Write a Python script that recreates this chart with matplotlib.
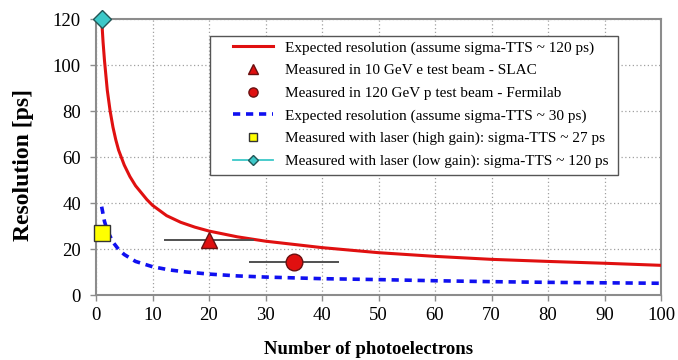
import matplotlib
matplotlib.use("Agg")
import matplotlib.pyplot as plt
from matplotlib.patches import Rectangle

plt.rcParams['font.family'] = ['Liberation Serif', 'DejaVu Serif']

# --- data ---
red_n = [1, 1.25, 1.5, 2, 2.5, 3, 3.5, 4, 5, 6, 7, 8, 9, 10, 12.5, 15, 17.5, 20, 25, 30, 40, 50, 60, 70, 80, 90, 100]
red_res = [120, 110, 102, 89, 80, 73, 67.5, 63, 56.5, 51.5, 47.5, 44.5, 41.5, 39, 34.5, 31.6, 29.5, 27.8, 25.3, 23.4, 20.6, 18.4, 16.8, 15.5, 14.6, 13.8, 12.9]

blue_n = [1, 1.5, 2, 3, 4, 5, 7, 10, 13, 16, 20, 25, 30, 40, 50, 60, 70, 80, 90, 100]
blue_res = [38.4, 32, 28, 23, 19.8, 17.6, 14.6, 12.3, 10.9, 10, 9.1, 8.3, 7.8, 7.1, 6.7, 6.2, 5.8, 5.5, 5.3, 5.1]

slac_n, slac_res, slac_nerr = [20], [24], [8]
fnal_n, fnal_res, fnal_nerr = [35], [14.3], [8]
laser_hi_n, laser_hi_res = [1], [27]
laser_lo_n, laser_lo_res = [1], [120]

labels = [
    "Expected resolution (assume sigma-TTS ~ 120 ps)",
    "Measured in 10 GeV e test beam - SLAC",
    "Measured in 120 GeV p test beam - Fermilab",
    "Expected resolution (assume sigma-TTS ~ 30 ps)",
    "Measured with laser (high gain): sigma-TTS ~ 27 ps",
    "Measured with laser (low gain): sigma-TTS ~ 120 ps",
]
xticks = list(range(0, 101, 10))
yticks = list(range(0, 121, 20))

RED = '#e01010'
BLUE = '#1010f0'
CYAN = '#3cc8c8'

fig = plt.figure(figsize=(6.78, 3.60), dpi=100)
ax = fig.add_axes([96 / 678, 65 / 360, 565 / 678, 276 / 360])

h_red, = ax.plot(red_n, red_res, color=RED, lw=2.2, zorder=3, label=labels[0])
h_blue, = ax.plot(blue_n, blue_res, color=BLUE, lw=2.6, dashes=(2.0, 1.6), zorder=3, label=labels[3])

ax.errorbar(slac_n, slac_res, xerr=slac_nerr, fmt='none', ecolor='#505050', elinewidth=1.4, capsize=0, zorder=4)
ax.errorbar(fnal_n, fnal_res, xerr=fnal_nerr, fmt='none', ecolor='#505050', elinewidth=1.4, capsize=0, zorder=4)
h_tri, = ax.plot(slac_n, slac_res, ls='none', marker='^', ms=12, mfc=RED, mec='#6a1010', mew=1.0, zorder=5, label=labels[1])
h_circ, = ax.plot(fnal_n, fnal_res, ls='none', marker='o', ms=12, mfc=RED, mec='#6a1010', mew=1.0, zorder=5, label=labels[2])
h_sq, = ax.plot(laser_hi_n, laser_hi_res, ls='none', marker='s', ms=11, mfc='#ffff00', mec='#333333', mew=1.0, zorder=5, clip_on=False, label=labels[4])
h_dia, = ax.plot(laser_lo_n, laser_lo_res, color=CYAN, lw=1.3, marker='D', ms=9, mfc=CYAN, mec='#225555', mew=1.0, zorder=6, clip_on=False, label=labels[5])

ax.set_xlim(0, 100)
ax.set_ylim(0, 120)
ax.set_xticks(xticks)
ax.set_yticks(yticks)
ax.grid(True, color='#a0a0a0', linestyle=(0, (1, 2)), linewidth=0.9)
ax.set_axisbelow(True)
for s in ax.spines.values():
    s.set_color('#8c8c8c')
    s.set_linewidth(1.5)
ax.tick_params(axis='both', colors='#8c8c8c', labelcolor='black', length=4.3, width=1.0, labelsize=13.5)
ax.tick_params(axis='x', pad=4.5)
ax.tick_params(axis='y', pad=6.5)

fig.text(24 / 678, 1 - 165 / 360, "Resolution [ps]", rotation=90, ha='center', va='center',
         fontsize=17, fontweight='bold')
fig.text(369 / 678, 1 - 350 / 360, "Number of photoelectrons", ha='center', va='center',
         fontsize=13.5, fontweight='bold')

# legend frame (drawn separately to get the reference's padding)
frame = Rectangle((114 / 565, 120 / 276), 408 / 565, 139 / 276, transform=ax.transAxes,
                  facecolor='white', edgecolor='#555555', linewidth=1.0, zorder=9, clip_on=False)
ax.add_patch(frame)

leg = ax.legend(handles=[h_red, h_tri, h_circ, h_blue, h_sq, h_dia], labels=labels,
                loc='upper left', bbox_to_anchor=(137 / 565, (295 - 41) / 276), fontsize=11,
                frameon=False, handlelength=2.6, handletextpad=0.78,
                borderpad=0, labelspacing=0.58, markerscale=0.55, borderaxespad=0)
leg.set_zorder(10)

fig.savefig("out.png", dpi=100, facecolor='white')
